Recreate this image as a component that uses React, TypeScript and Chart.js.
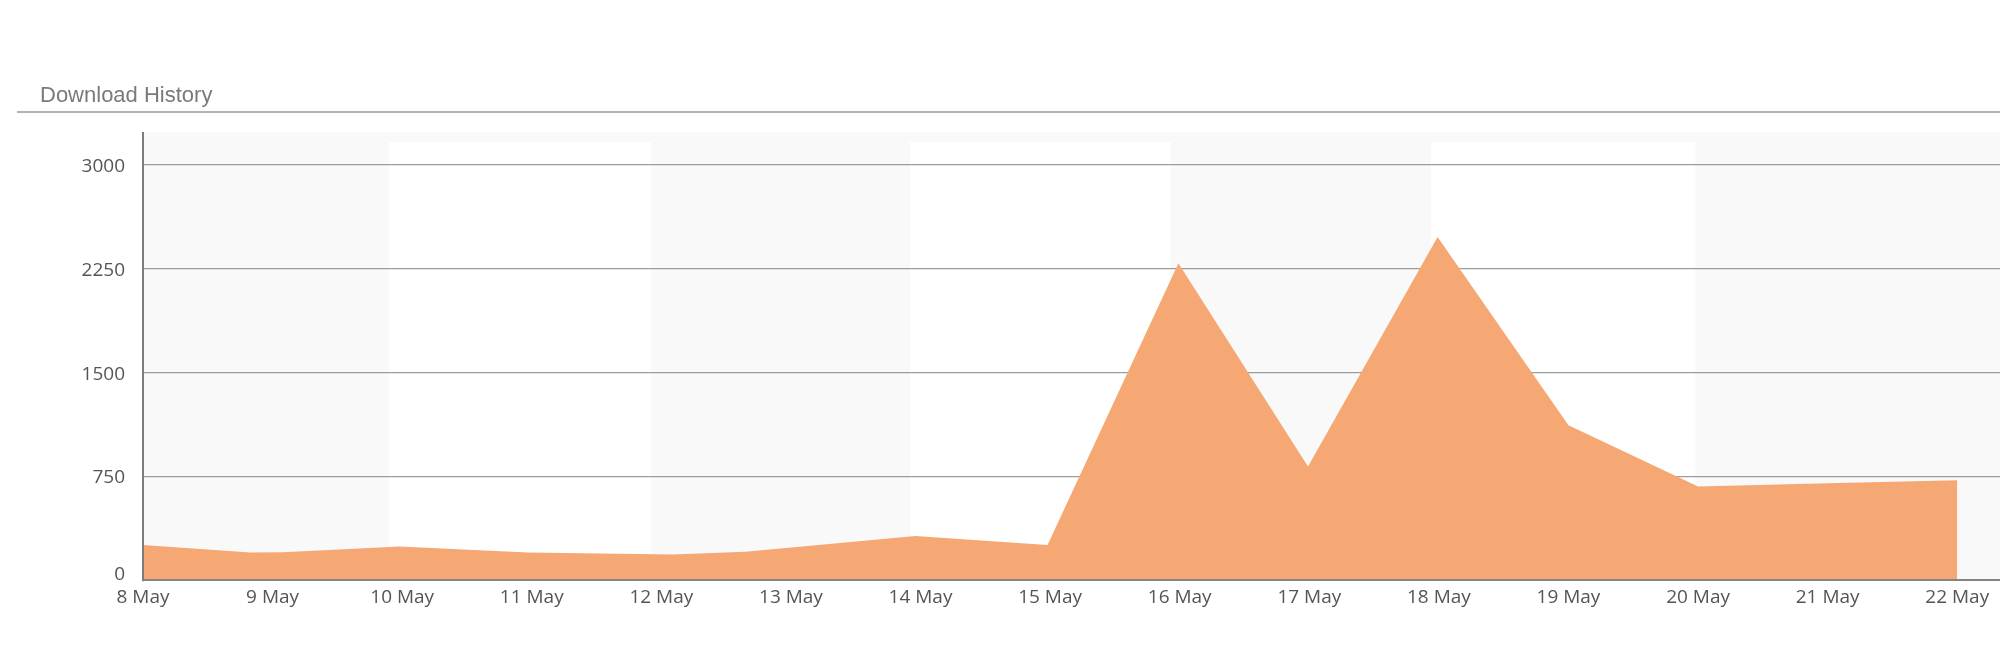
import React, { useEffect, useRef } from "react";
import { Chart, registerables } from "chart.js";

Chart.register(...registerables);

const categories = [
  "8 May", "9 May", "10 May", "11 May", "12 May", "13 May", "14 May", "15 May",
  "16 May", "17 May", "18 May", "19 May", "20 May", "21 May", "22 May",
];
// day offsets (from 8 May) of the sampled points, and downloads at each
const pointDays = [0, 0.83, 1.08, 1.98, 2.97, 4.09, 4.65, 5.96, 6.98, 7.99, 8.99, 9.99, 11, 12, 13, 14];
const downloads = [254, 200, 202, 244, 200, 186, 205, 319, 254, 2290, 822, 2479, 1120, 677, 700, 723];
const yTicks = [0, 750, 1500, 2250, 3000];
// alternating white plot bands (day offsets)
const whiteBands: [number, number][] = [[1.9, 3.92], [5.92, 7.93], [9.94, 11.98]];
const title = "Download History";

export default function App() {
  const ref = useRef<HTMLCanvasElement>(null);
  useEffect(() => {
    document.body.style.margin = "0";
    const canvas = ref.current!;
    const bgPlugin = {
      id: "bg",
      beforeDraw(chart: any) {
        const { ctx, chartArea } = chart;
        const xs = chart.scales.x;
        ctx.save();
        ctx.fillStyle = "#f9f9f9";
        ctx.fillRect(chartArea.left, chartArea.top, chartArea.right - chartArea.left, chartArea.bottom - chartArea.top);
        ctx.fillStyle = "#ffffff";
        whiteBands.forEach(([a, b]) => {
          const x1 = xs.getPixelForValue(a);
          const x2 = xs.getPixelForValue(b);
          ctx.fillRect(x1, chartArea.top + 9.5, x2 - x1, chartArea.bottom - chartArea.top - 9.5);
        });
        // title
        ctx.fillStyle = "#7a7a7a";
        ctx.font = "22px 'Liberation Sans', Arial, sans-serif";
        ctx.textAlign = "left";
        ctx.textBaseline = "alphabetic";
        ctx.fillText(title, 40, 102);
        ctx.strokeStyle = "#9a9a9a";
        ctx.lineWidth = 1.5;
        ctx.beginPath();
        ctx.moveTo(17, 112);
        ctx.lineTo(chart.width, 112);
        ctx.stroke();
        ctx.restore();
      },
      afterDraw(chart: any) {
        const { ctx } = chart;
        const ys = chart.scales.y;
        ctx.save();
        ctx.fillStyle = "#555555";
        ctx.font = "19px 'Open Sans', sans-serif";
        ctx.textAlign = "right";
        ctx.textBaseline = "alphabetic";
        yTicks.forEach((v) => {
          const py = ys.getPixelForValue(v);
          ctx.fillText(String(v), 125, v === 0 ? py : py + 7);
        });
        ctx.restore();
      },
    };

    const chart = new Chart(canvas, {
      type: "line",
      data: {
        datasets: [
          {
            label: title,
            data: pointDays.map((d, i) => ({ x: d, y: downloads[i] })),
            backgroundColor: "#F5A873",
            borderWidth: 0,
            borderColor: "rgba(0,0,0,0)",
            fill: "origin",
            pointRadius: 0,
            tension: 0,
          },
        ],
      },
      options: {
        animation: false,
        responsive: false,
        devicePixelRatio: 1,
        layout: { padding: { left: 143, top: 132.5, right: 0, bottom: 48 } },
        plugins: { legend: { display: false }, tooltip: { enabled: false } },
        scales: {
          x: {
            type: "linear",
            min: 0,
            max: 14.33,
            afterBuildTicks: (s: any) => {
              s.ticks = categories.map((_, i) => ({ value: i }));
            },
            grid: { display: false, drawTicks: false },
            border: { display: true, color: "#858585", width: 2, z: 1 },
            ticks: {
              autoSkip: false,
              maxRotation: 0,
              padding: 6,
              color: "#555555",
              font: { family: "'Open Sans', sans-serif", size: 19 },
              callback: (v: any) => categories[Math.round(Number(v))] ?? "",
            },
          },
          y: {
            min: 0,
            max: 3235,
            afterBuildTicks: (s: any) => {
              s.ticks = yTicks.map((v) => ({ value: v }));
            },
            grid: {
              drawTicks: false,
              color: (c: any) => (c.tick && c.tick.value === 0 ? "rgba(0,0,0,0)" : "#9c9c9c"),
              lineWidth: 1.2,
            },
            border: { display: true, color: "#7d7d7d", width: 2, z: 1 },
            ticks: { display: false },
          },
        },
      },
      plugins: [bgPlugin],
    });
    return () => chart.destroy();
  }, []);
  return <canvas ref={ref} width={2000} height={663} style={{ display: "block", width: 2000, height: 663 }} />;
}
